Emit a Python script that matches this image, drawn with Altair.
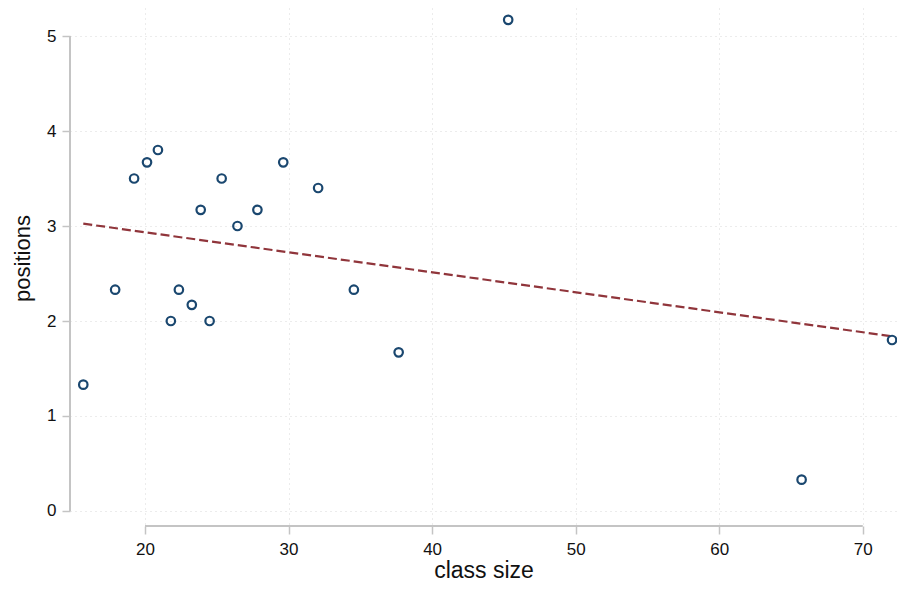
import altair as alt
import pandas as pd

class_size = [15.70, 17.92, 19.24, 20.14, 20.90, 21.80, 22.36, 23.26, 23.88, 24.50,
              25.34, 26.44, 27.83, 29.63, 32.06, 34.55, 37.67, 45.30, 65.74, 72.04]
positions = [1.33, 2.33, 3.50, 3.67, 3.80, 2.00, 2.33, 2.17, 3.17, 2.00,
             3.50, 3.00, 3.17, 3.67, 3.40, 2.33, 1.67, 5.17, 0.33, 1.80]
x_ticks = [20, 30, 40, 50, 60, 70]
y_ticks = [0, 1, 2, 3, 4, 5]

df = pd.DataFrame({"class size": class_size, "positions": positions})

W, H = 827, 518
FONT = "Liberation Sans"
AXIS_COLOR = "#c4c4c4"

xscale = alt.Scale(domain=[14.775, 72.386], nice=False, zero=False)
yscale = alt.Scale(domain=[-0.158, 5.295], nice=False, zero=False)

xaxis = alt.Axis(values=x_ticks, format="d", domain=False, tickColor=AXIS_COLOR, tickSize=8, tickWidth=1.5,
                 labelFont=FONT, labelFontSize=17, labelColor="#111", labelPadding=7,
                 title="class size", titleFont=FONT, titleFontSize=23, titleFontWeight="normal",
                 titleColor="#111", titlePadding=2,
                 grid=True, gridColor="#d9d9d9", gridDash=[1, 4], gridWidth=1)
yaxis = alt.Axis(values=y_ticks, format="d", domain=False, tickColor=AXIS_COLOR, tickSize=8, tickWidth=1.5,
                 labelFont=FONT, labelFontSize=17, labelColor="#111", labelPadding=6,
                 title="positions", titleFont=FONT, titleFontSize=22, titleFontWeight="normal",
                 titleColor="#111", titlePadding=12, titleY=250,
                 grid=True, gridColor="#d9d9d9", gridDash=[1, 4], gridWidth=1)

base = alt.Chart(df)

points = base.mark_point(shape="circle", filled=False, size=72, strokeWidth=2.2,
                         color="#1a476f", opacity=1).encode(
    x=alt.X("class size:Q", scale=xscale, axis=xaxis),
    y=alt.Y("positions:Q", scale=yscale, axis=yaxis),
)

fit = base.transform_regression("class size", "positions").mark_line(
    color="#90353b", strokeDash=[9, 4], strokeWidth=2.2).encode(
    x=alt.X("class size:Q", scale=xscale),
    y=alt.Y("positions:Q", scale=yscale),
)

xline = alt.Chart(pd.DataFrame({"a": [min(x_ticks)], "b": [max(x_ticks)]})).mark_rule(
    color=AXIS_COLOR, strokeWidth=2).encode(
    x=alt.X("a:Q", scale=xscale), x2="b:Q", y=alt.value(H))
yline = alt.Chart(pd.DataFrame({"a": [min(y_ticks)], "b": [max(y_ticks)]})).mark_rule(
    color=AXIS_COLOR, strokeWidth=2).encode(
    y=alt.Y("a:Q", scale=yscale), y2="b:Q", x=alt.value(0))

chart = alt.layer(xline, yline, fit, points).properties(
    width=W, height=H,
    background="white",
    autosize=alt.AutoSizeParams(type="none"),
    padding={"left": 62, "top": 0, "right": 0, "bottom": 66},
).configure_view(stroke=None)

chart.save("out.html", embed_options={"renderer": "svg", "actions": False})
